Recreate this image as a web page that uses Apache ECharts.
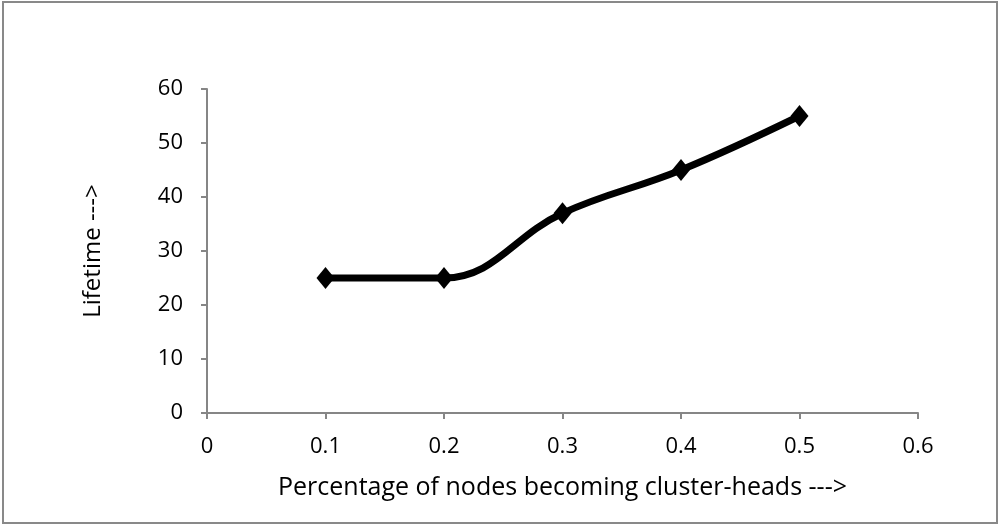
<!DOCTYPE html>
<html>
<head>
<meta charset="utf-8">
<script src="https://cdn.jsdelivr.net/npm/echarts@6/dist/echarts.min.js"></script>
<style>
    html, body { margin: 0; padding: 0; background: #fff; }
    #main { width: 1000px; height: 527px; }
</style>
</head>
<body>
<div id="main"></div>
<script>
// 数据
var xValues = [0.1, 0.2, 0.3, 0.4, 0.5];
var lifetime = [25, 25, 37, 45, 55];

var chart = echarts.init(document.getElementById('main'));
var points = [];
for (var i = 0; i < xValues.length; i++) {
    points.push([xValues[i], lifetime[i]]);
}
var fontFamily = 'Open Sans, Liberation Sans, sans-serif';
var axisColor = '#868686';
var option = {
    animation : false,
    backgroundColor : '#fff',
    graphic : [ {
        type : 'rect',
        shape : { x : 3, y : 2, width : 994, height : 521 },
        style : { fill : 'none', stroke : '#898989', lineWidth : 2 }
    } ],
    grid : {
        left : 207,
        right : 82,
        top : 89,
        bottom : 114
    },
    xAxis : {
        type : 'value',
        min : 0,
        max : 0.6,
        interval : 0.1,
        name : 'Percentage of nodes becoming cluster-heads --->',
        nameLocation : 'middle',
        nameGap : 62,
        nameTextStyle : { fontFamily : fontFamily, fontSize : 25, color : '#000' },
        splitLine : { show : false },
        axisLine : { lineStyle : { color : axisColor, width : 2 } },
        axisTick : { show : true, length : 6, lineStyle : { color : axisColor, width : 2 } },
        axisLabel : {
            margin : 23,
            fontFamily : fontFamily,
            fontSize : 22,
            color : '#000',
            formatter : function(v) { return String(Math.round(v * 10) / 10); }
        }
    },
    yAxis : {
        type : 'value',
        min : 0,
        max : 60,
        interval : 10,
        name : 'Lifetime --->',
        nameLocation : 'middle',
        nameGap : 102,
        nameTextStyle : { fontFamily : fontFamily, fontSize : 24, color : '#000' },
        splitLine : { show : false },
        axisLine : { show : true, lineStyle : { color : axisColor, width : 2 } },
        axisTick : { show : true, length : 6, lineStyle : { color : axisColor, width : 2 } },
        axisLabel : { margin : 24, fontFamily : fontFamily, fontSize : 22, color : '#000' }
    },
    series : [ {
        type : 'line',
        smooth : 0.4,
        data : points,
        symbol : 'diamond',
        symbolSize : [18, 22],
        itemStyle : { color : '#000' },
        lineStyle : { color : '#000', width : 7 }
    } ]
};
chart.setOption(option);
</script>
</body>
</html>
